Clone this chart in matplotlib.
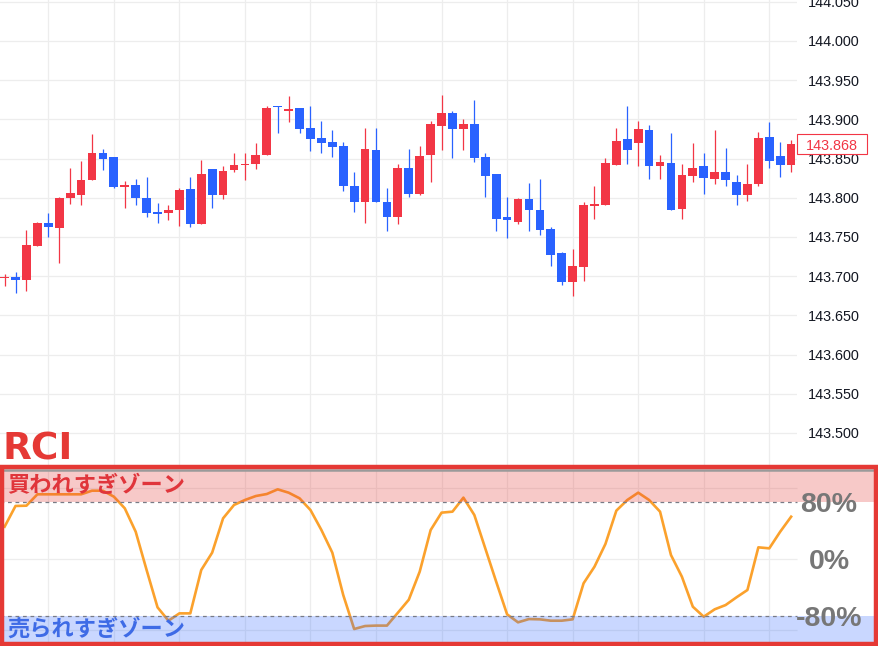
import numpy as np
import matplotlib.pyplot as plt
from matplotlib.patches import Rectangle
from matplotlib.lines import Line2D
from matplotlib.transforms import blended_transform_factory

# ローソク足 (USD/JPY)
opens = [143.698, 143.699, 143.695, 143.739, 143.768, 143.762, 143.800, 143.804, 143.822, 143.857,
         143.852, 143.814, 143.816, 143.800, 143.782, 143.781, 143.784, 143.811, 143.766, 143.837,
         143.804, 143.835, 143.842, 143.843, 143.854, 143.917, 143.910, 143.914, 143.889, 143.876,
         143.871, 143.866, 143.815, 143.794, 143.861, 143.795, 143.776, 143.838, 143.805, 143.854,
         143.892, 143.908, 143.888, 143.894, 143.852, 143.830, 143.775, 143.769, 143.798, 143.784,
         143.760, 143.729, 143.692, 143.712, 143.789, 143.791, 143.842, 143.875, 143.870, 143.886,
         143.840, 143.844, 143.786, 143.828, 143.840, 143.824, 143.833, 143.820, 143.803, 143.817,
         143.877, 143.853, 143.842]
highs = [143.703, 143.705, 143.759, 143.769, 143.781, 143.801, 143.838, 143.847, 143.881, 143.862,
         143.852, 143.821, 143.824, 143.826, 143.793, 143.791, 143.812, 143.826, 143.848, 143.837,
         143.840, 143.857, 143.857, 143.870, 143.917, 143.917, 143.930, 143.914, 143.917, 143.898,
         143.886, 143.871, 143.833, 143.889, 143.889, 143.812, 143.843, 143.862, 143.866, 143.898,
         143.931, 143.911, 143.900, 143.925, 143.857, 143.830, 143.801, 143.800, 143.819, 143.824,
         143.763, 143.731, 143.735, 143.795, 143.815, 143.851, 143.889, 143.917, 143.898, 143.893,
         143.854, 143.883, 143.843, 143.870, 143.857, 143.886, 143.863, 143.829, 143.843, 143.884,
         143.897, 143.871, 143.874]
lows = [143.687, 143.678, 143.681, 143.739, 143.750, 143.717, 143.792, 143.791, 143.822, 143.835,
        143.812, 143.787, 143.791, 143.775, 143.768, 143.771, 143.764, 143.763, 143.766, 143.787,
        143.799, 143.833, 143.823, 143.837, 143.854, 143.883, 143.897, 143.883, 143.859, 143.857,
        143.852, 143.808, 143.782, 143.768, 143.795, 143.757, 143.766, 143.801, 143.803, 143.820,
        143.861, 143.851, 143.861, 143.846, 143.801, 143.758, 143.749, 143.767, 143.757, 143.753,
        143.713, 143.689, 143.675, 143.694, 143.773, 143.791, 143.842, 143.843, 143.840, 143.824,
        143.824, 143.784, 143.773, 143.820, 143.805, 143.817, 143.815, 143.791, 143.796, 143.815,
        143.838, 143.826, 143.833]
closes = [143.699, 143.695, 143.740, 143.768, 143.763, 143.800, 143.806, 143.823, 143.857, 143.850,
          143.814, 143.816, 143.800, 143.781, 143.779, 143.784, 143.810, 143.767, 143.830, 143.804,
          143.834, 143.842, 143.843, 143.854, 143.914, 143.916, 143.913, 143.888, 143.875, 143.870,
          143.865, 143.815, 143.795, 143.862, 143.795, 143.776, 143.838, 143.805, 143.853, 143.894,
          143.908, 143.888, 143.894, 143.851, 143.828, 143.773, 143.771, 143.798, 143.784, 143.759,
          143.727, 143.693, 143.713, 143.791, 143.792, 143.844, 143.872, 143.861, 143.888, 143.840,
          143.846, 143.784, 143.829, 143.838, 143.825, 143.833, 143.823, 143.803, 143.817, 143.876,
          143.847, 143.842, 143.868]

# RCI (%)
rci = [45.7, 74.9, 75.3, 91.3, 91.3, 91.3, 91.3, 91.3, 96.4, 96.4,
       88.0, 71.6, 38.7, -15.2, -67.7, -86.5, -76.2, -76.2, -15.2, 9.2,
       57.5, 76.3, 83.3, 88.9, 91.7, 98.3, 93.6, 85.7, 69.2, 41.1,
       9.2, -50.4, -98.2, -94.0, -93.4, -93.4, -75.3, -57.0, -17.5, 41.0,
       65.5, 66.9, 86.6, 62.2, 15.3, -31.6, -77.6, -88.8, -84.2, -84.6,
       -86.5, -86.5, -84.6, -33.9, -10.5, 21.4, 68.3, 83.3, 93.6, 83.3,
       66.9, 5.9, -24.6, -66.8, -80.9, -70.5, -64.5, -53.6, -43.3, 16.7,
       15.3, 38.7, 59.8]

price_ticks = [143.500, 143.550, 143.600, 143.650, 143.700, 143.750, 143.800,
               143.850, 143.900, 143.950, 144.000, 144.050]
rci_levels = [80, 0, -80]
rci_labels = ["80%", "0%", "-80%"]

RED = '#f23645'
BLUE = '#2962ff'
MARK = '#e53935'
GRID = '#ededed'

W, H = 879, 646
fig = plt.figure(figsize=(W / 100, H / 100), dpi=100)
fig.patch.set_facecolor('white')

def fx(px):
    return px / W

def fy(py):
    return 1 - py / H

x0, dx = 4.6, 10.924
xleft = -x0 / dx
xright = (797 - x0) / dx
idx = np.arange(len(closes))
o = np.array(opens); c = np.array(closes)

# 価格チャート
ax = fig.add_axes([0, fy(469), 797 / W, 469 / H])
ax.set_xlim(xleft, xright)
ax.set_ylim(143.4540, 144.0522)
for s in ax.spines.values():
    s.set_visible(False)
ax.set_xticks([])
ax.yaxis.tick_right()
ax.set_yticks(price_ticks)
ax.set_yticklabels([f"{p:.3f}" for p in price_ticks])
ax.tick_params(axis='y', length=0, pad=8, labelsize=10.4, labelcolor='#131722')
for lab in ax.get_yticklabels():
    lab.set_family('Liberation Sans')
for p in price_ticks:
    ax.axhline(p, color=GRID, lw=0.9, zorder=0)
for g in range(4, 73, 6):
    ax.axvline(g, color=GRID, lw=0.9, zorder=0)

cols = [RED if cc >= oo else BLUE for oo, cc in zip(o, c)]
ax.vlines(idx, lows, highs, colors=cols, lw=0.9, zorder=2)
body = np.maximum(np.abs(c - o), 0.0012)
ax.bar(idx, body, bottom=np.minimum(o, c), width=0.8, color=cols, lw=0, zorder=3)

# 現在値ラベル
tr = blended_transform_factory(fig.transFigure, ax.transData)
hbox = 20 * (144.0522 - 143.4540) / 469
last = closes[-1]
fig.add_artist(Rectangle((fx(797), last - hbox / 2), fx(70), hbox, transform=tr,
                         facecolor='white', edgecolor=RED, lw=0.8, zorder=10))
fig.text(fx(832), last, f"{last:.3f}", transform=tr, ha='center', va='center_baseline',
         color=RED, fontsize=10.4, family='Liberation Sans', zorder=11)

# RCI パネル
ax_r = fig.add_axes([0, 0, 1, (646 - 470) / H])
ax_r.set_xlim(xleft, (W - x0) / dx)
ax_r.set_ylim(-122.1, 125.5)
ax_r.axis('off')
ax_r.hlines([100, 0, -100], xleft, xright, colors=GRID, lw=0.9, zorder=0)
ax_r.vlines(list(range(4, 73, 6)), -122.1, 125.5, colors=GRID, lw=0.9, zorder=0)
ax_r.plot(idx, rci, color='#fba12c', lw=1.9, zorder=3)
ax_r.axhspan(80, 125.5, color=MARK, alpha=0.27, lw=0, zorder=4)
ax_r.axhspan(-122.1, -80, color=BLUE, alpha=0.25, lw=0, zorder=4)
ax_r.hlines([80, -80], xleft, xright, colors='#787b86', linestyles=(0, (3, 3)), lw=0.9, zorder=5)

for lv, lab in zip(rci_levels, rci_labels):
    ax_r.text(fx(829), lv, lab, transform=blended_transform_factory(fig.transFigure, ax_r.transData),
              ha='center', va='center_baseline', family='Liberation Sans', weight='bold',
              fontsize=20.5, color='#777777', zorder=6)

# 区切り線と枠
fig.add_artist(Line2D([fx(3), fx(875)], [fy(470), fy(470)], color='#9a9a9a', lw=1.8))
fig.add_artist(Rectangle((fx(2.3), fy(643.5)), fx(873.7), (643.5 - 466.5) / H, fill=False,
                         edgecolor=MARK, lw=3.2, transform=fig.transFigure, zorder=20))

fig.text(fx(3), fy(459), 'RCI', color=MARK, fontsize=27, fontweight='bold', va='baseline', ha='left')
fig.text(fx(7), fy(485), '買われすぎゾーン', family=['Noto Sans CJK JP'], weight='bold',
         fontsize=16, color='#e0353b', va='center', ha='left')
fig.text(fx(7), fy(629), '売られすぎゾーン', family=['Noto Sans CJK JP'], weight='bold',
         fontsize=16, color='#3e6be6', va='center', ha='left')

fig.savefig('out.png', dpi=100)
